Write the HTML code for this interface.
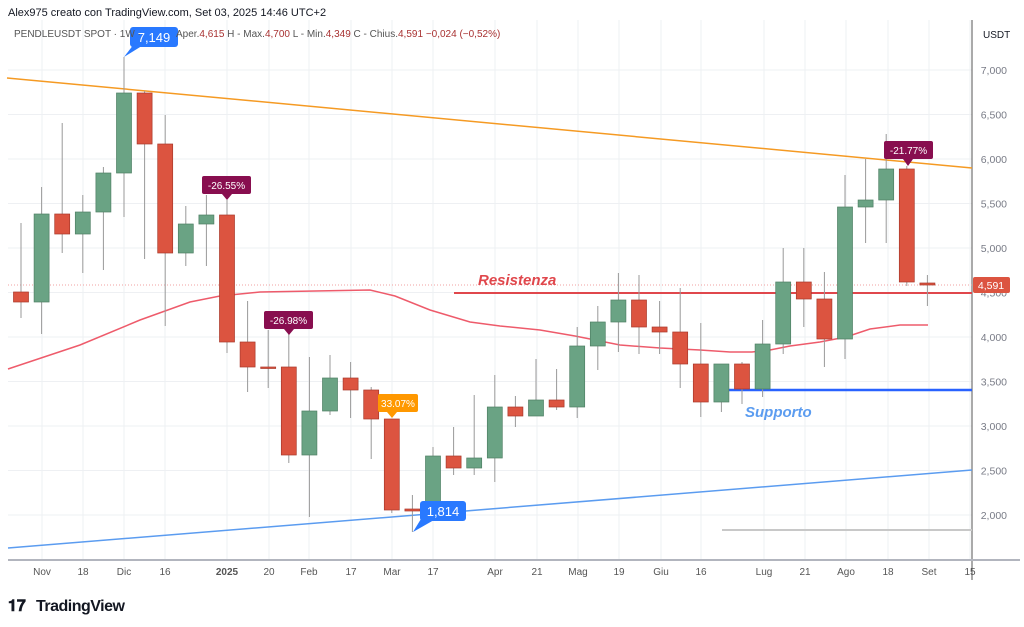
<!DOCTYPE html>
<html><head><meta charset="utf-8"><style>
body{margin:0;background:#fff;width:1024px;height:627px;overflow:hidden;font-family:"Liberation Sans",sans-serif}
svg{position:absolute;left:0;top:0}
</style></head><body>
<svg id="s" width="1024" height="627" xmlns="http://www.w3.org/2000/svg" font-family="Liberation Sans, sans-serif">
<text x="8" y="16" font-size="11" fill="#131722">Alex975 creato con TradingView.com, Set 03, 2025 14:46 UTC+2</text>
</svg>
<script>
const s=document.getElementById('s');let h='';
const gx=[42,83,124,165,227,269,309,351,392,433,495,537,578,619,661,701,764,805,846,888,929,970];
gx.forEach(x=>h+=`<line x1="${x}" y1="20" x2="${x}" y2="560" stroke="#eef0f3"/>`);
for(let p=2000;p<=7000;p+=500){let y=70+(7000-p)*0.089;h+=`<line x1="8" y1="${y}" x2="972" y2="${y}" stroke="#eef0f3"/><text x="1007" y="${y+4}" font-size="10.5" fill="#787b86" text-anchor="end">${(p/1000).toFixed(3).replace('.',',')}</text>`;}
h+=`<text x="983" y="38" font-size="10" fill="#131722">USDT</text>`;
h+=`<line x1="972" y1="20" x2="972" y2="580" stroke="#555"/><line x1="8" y1="560" x2="1020" y2="560" stroke="#b2b5be" stroke-width="2"/>`;
const gl=['Nov','18','Dic','16','2025','20','Feb','17','Mar','17','Apr','21','Mag','19','Giu','16','Lug','21','Ago','18','Set','15'];
gl.forEach((t,i)=>h+=`<text x="${gx[i]}" y="575" font-size="10" fill="#555" text-anchor="middle" ${t=='2025'?'font-weight="bold"':''}>${t}</text>`);
h+=`<line x1="8" y1="285" x2="972" y2="285" stroke="#f2a0a0" stroke-dasharray="1,2"/>`;
h+=`<line x1="7" y1="78" x2="972" y2="168" stroke="#f59a23" stroke-width="1.5"/>`;
h+=`<line x1="8" y1="548" x2="972" y2="470" stroke="#5b9cf0" stroke-width="1.5"/>`;
h+=`<line x1="722" y1="530" x2="972" y2="530" stroke="#c8c8c8" stroke-width="2"/>`;
h+=`<polyline fill="none" stroke="#ee5b6b" stroke-width="1.5" points="8,369 80,345 140,320 190,302 220,296 260,292 370,290 395,296 430,310 470,322 500,326 540,330 575,336 620,345 660,348 700,350 730,352 752,352 770,350 790,346 820,342 846,337 870,329 900,325 928,325"/>`;
h+=`<line x1="454" y1="293" x2="972" y2="293" stroke="#e0474c" stroke-width="2"/>`;
h+=`<line x1="720" y1="390" x2="972" y2="390" stroke="#2962ff" stroke-width="2.5"/>`;
const c=[[0,292,302,223,318],[1,302,214,187,334],[0,214,234,123,253],[1,234,212,195,273],[1,212,173,167,270],[1,173,93,57,217],[0,93,144,91,259],[0,144,253,115,326],[1,253,224,206,266],[1,224,215,195,266],[0,215,342,200,353],[0,342,367,301,392],[0,367,368,330,388],[0,367,455,330,463],[1,455,411,357,517],[1,411,378,355,415],[0,378,390,362,418],[0,390,419,387,459],[0,419,510,419,513],[0,509,511,495,532],[1,510,456,447,513],[0,456,468,427,475],[1,468,458,395,475],[1,458,407,375,482],[0,407,416,396,427],[1,416,400,359,416],[0,400,407,369,410],[1,407,346,327,418],[1,346,322,306,370],[1,322,300,273,352],[0,300,327,275,354],[0,327,332,301,354],[0,332,364,288,388],[0,364,402,323,417],[1,402,364,364,412],[0,364,389,362,404],[1,389,344,320,397],[1,344,282,248,354],[0,282,299,248,327],[0,299,339,272,367],[1,339,207,175,359],[1,207,200,159,243],[1,200,169,134,243],[0,169,282,166,286],[0,283,285,275,306]];
c.forEach((d,i)=>{const x=21+20.6*i;const col=d[0]?'#6aa384':'#dc5440';const t=Math.min(d[1],d[2]),b=Math.max(d[1],d[2]);
h+=`<line x1="${x}" y1="${d[3]}" x2="${x}" y2="${d[4]}" stroke="#999"/><rect x="${x-7.5}" y="${t}" width="15" height="${Math.max(b-t,1.5)}" fill="${col}" stroke="${d[0]?'#4f7f64':'#a8382a'}" stroke-width="0.7"/>`;});
function lab(x,y,w,t,bg,px,py){h+=`<rect x="${x}" y="${y}" width="${w}" height="18" rx="2" fill="${bg}"/><polygon points="${px-5},${y+18} ${px+5},${y+18} ${px},${py}" fill="${bg}"/><text x="${x+w/2}" y="${y+13}" font-size="10" fill="#fff" text-anchor="middle">${t}</text>`;}
lab(202,176,49,'-26.55%','#880e4f',227,200);lab(264,311,49,'-26.98%','#880e4f',289,335);lab(884,141,49,'-21.77%','#880e4f',908,166);lab(378,394,40,'33.07%','#ff9800',392,418);
h+=`<rect x="130" y="27" width="48" height="20" rx="3" fill="#2979ff"/><polygon points="134,44 145,44 124,57" fill="#2979ff"/><text x="154" y="42" font-size="13" fill="#fff" text-anchor="middle">7,149</text>`;
h+=`<rect x="420" y="501" width="46" height="20" rx="3" fill="#2979ff"/><polygon points="424,514 434,520 413,532" fill="#2979ff"/><text x="443" y="516" font-size="13" fill="#fff" text-anchor="middle">1,814</text>`;
h+=`<text x="14" y="37" font-size="10" fill="#555">PENDLEUSDT SPOT · 1W · </text><text x="176" y="37" font-size="10" fill="#555">Aper.<tspan fill="#a83232">4,615</tspan>  H - Max.<tspan fill="#a83232">4,700</tspan>  L - Min.<tspan fill="#a83232">4,349</tspan>  C - Chius.<tspan fill="#a83232">4,591</tspan>  <tspan fill="#a83232">−0,024 (−0,52%)</tspan></text>`;
h+=`<text x="478" y="285" font-size="15" font-weight="bold" font-style="italic" fill="#e0474c">Resistenza</text>`;
h+=`<text x="745" y="417" font-size="15" font-weight="bold" font-style="italic" fill="#5b9cf0">Supporto</text>`;
h+=`<rect x="973" y="277" width="37" height="16" rx="2" fill="#dc5440"/><text x="991" y="289" font-size="10.5" fill="#fff" text-anchor="middle">4,591</text>`;
h+=`<text x="8" y="611" font-size="16" font-weight="bold" fill="#131722">𝟏𝟕</text><text x="36" y="611" font-size="16" font-weight="bold" fill="#131722" letter-spacing="-0.5">TradingView</text>`;
s.innerHTML+=h;
</script>
</body></html>
